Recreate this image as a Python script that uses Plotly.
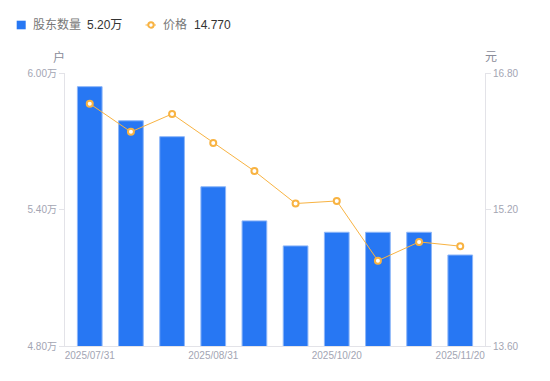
import plotly.graph_objects as go

dates = ["2025/07/31", "2025/08/10", "2025/08/20", "2025/08/31", "2025/09/30",
         "2025/10/10", "2025/10/20", "2025/10/31", "2025/11/10", "2025/11/20"]
shareholders = [5.94, 5.79, 5.72, 5.50, 5.35, 5.24, 5.30, 5.30, 5.30, 5.20]  # 万户
price = [16.44, 16.11, 16.32, 15.98, 15.65, 15.27, 15.30, 14.60, 14.82, 14.77]  # 元

left_ticks = [4.80, 5.40, 6.00]
right_ticks = [13.60, 15.20, 16.80]
x_tick_labels = ["2025/07/31", "2025/08/31", "2025/10/20", "2025/11/20"]

FONT = "Liberation Sans, Arial, Noto Sans CJK SC, sans-serif"
AXIS_COLOR = "#e3e3e8"
TICK_FONT_COLOR = "#a3a5b3"
BAR_COLOR = "#2777F3"
LINE_COLOR = "#F8B342"

# page offset (body margin) and layout geometry
OFF = 8
W_FIG, H_FIG = 550 - OFF, 381 - OFF
L, T, PW, PH = 65 - OFF, 73 - OFF, 420, 273
R = W_FIG - L - PW
B = H_FIG - T - PH


def px(x):
    return (x - OFF - L) / PW


def py(y):
    return 1 - (y - OFF - T) / PH


fig = go.Figure()
fig.add_trace(go.Bar(
    x=dates, y=shareholders, name="股东数量",
    marker=dict(color=BAR_COLOR, line=dict(color="#8DB6F8", width=1)),
    yaxis="y",
))
fig.add_trace(go.Scatter(
    x=dates, y=price, name="价格",
    mode="lines+markers",
    line=dict(color=LINE_COLOR, width=1),
    marker=dict(symbol="circle", size=6, color="white",
                line=dict(color=LINE_COLOR, width=2)),
    yaxis="y2",
))

legend_y = 25
annotations = [
    dict(text="股东数量", x=px(31), y=py(legend_y), xanchor="left", yanchor="middle",
         font=dict(size=12, color="#777777")),
    dict(text=f"{shareholders[-1]:.2f}万", x=px(85), y=py(legend_y), xanchor="left",
         yanchor="middle", font=dict(size=12, color="#333333")),
    dict(text="价格", x=px(161), y=py(legend_y), xanchor="left", yanchor="middle",
         font=dict(size=12, color="#777777")),
    dict(text=f"{price[-1]:.3f}", x=px(192), y=py(legend_y), xanchor="left",
         yanchor="middle", font=dict(size=12, color="#333333")),
    dict(text="户", x=px(58.5), y=py(57), xanchor="center", yanchor="middle",
         font=dict(size=12, color="#8a8c99")),
    dict(text="元", x=px(490.5), y=py(57), xanchor="center", yanchor="middle",
         font=dict(size=12, color="#8a8c99")),
]
for a in annotations:
    a.update(xref="paper", yref="paper", showarrow=False)

shapes = [
    dict(type="rect", x0=px(16.7), x1=px(25.7), y0=py(20.7), y1=py(29.3),
         fillcolor=BAR_COLOR, line=dict(width=0)),
    dict(type="line", x0=px(145.5), x1=px(156), y0=py(legend_y), y1=py(legend_y),
         line=dict(color=LINE_COLOR, width=1)),
    dict(type="circle", x0=px(148.3), x1=px(153.7), y0=py(22.3), y1=py(27.7),
         fillcolor="white", line=dict(color=LINE_COLOR, width=2)),
]
for s in shapes:
    s.update(xref="paper", yref="paper")

fig.update_layout(
    width=W_FIG, height=H_FIG,
    margin=dict(l=L, r=R, t=T, b=B),
    paper_bgcolor="white", plot_bgcolor="white",
    font=dict(family=FONT, size=12, color="#666666"),
    bargap=0.4,
    showlegend=False,
    xaxis=dict(
        type="category", showgrid=False, zeroline=False,
        showline=True, linecolor=AXIS_COLOR, linewidth=1,
        ticks="", tickmode="array",
        tickvals=x_tick_labels, ticktext=x_tick_labels,
        tickfont=dict(size=10, color=TICK_FONT_COLOR),
        tickangle=0,
    ),
    yaxis=dict(
        range=[left_ticks[0], left_ticks[-1]], showgrid=False, zeroline=False,
        showline=True, linecolor=AXIS_COLOR, linewidth=1,
        ticks="outside", ticklen=5, tickcolor=AXIS_COLOR,
        tickmode="array", tickvals=left_ticks,
        ticktext=[f"{v:.2f}万" for v in left_ticks],
        tickfont=dict(size=10, color=TICK_FONT_COLOR),
    ),
    yaxis2=dict(
        range=[right_ticks[0], right_ticks[-1]], overlaying="y", side="right",
        showgrid=False, zeroline=False,
        showline=True, linecolor=AXIS_COLOR, linewidth=1,
        ticks="outside", ticklen=5, tickcolor=AXIS_COLOR,
        tickmode="array", tickvals=right_ticks,
        ticktext=[f"{v:.2f}" for v in right_ticks],
        tickfont=dict(size=10, color=TICK_FONT_COLOR),
    ),
    annotations=annotations,
    shapes=shapes,
)

fig.write_html("out.html")
